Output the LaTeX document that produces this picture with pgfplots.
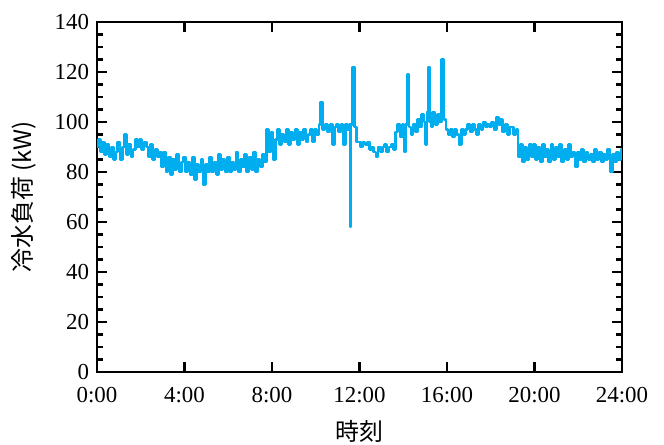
\documentclass[border=0pt]{standalone}
\usepackage{fontspec}
\setmainfont{Liberation Serif}
\newfontfamily\jp{Noto Sans CJK JP}
\usepackage{pgfplots}
\pgfplotsset{compat=1.18}
\definecolor{lc}{HTML}{00AEEF}
\begin{document}
\begin{tikzpicture}
\begin{axis}[
  scale only axis, width=525bp, height=350bp,
  xmin=0, xmax=24, ymin=0, ymax=140,
  xtick={0,4,8,12,16,20,24},
  xticklabels={0:00,4:00,8:00,12:00,16:00,20:00,24:00},
  ytick={0,20,40,60,80,100,120,140},
  minor y tick num=3,
  tick align=inside,
  major tick length=10bp, minor tick length=6bp,
  every tick/.style={black, line width=2.2bp},
  axis line style={black, line width=2.8bp},
  /pgf/number format/assume math mode=true,
  tick label style={font=\fontsize{23}{26}\selectfont},
  xticklabel style={yshift=-12bp},
  yticklabel style={xshift=-4.5bp},
  xlabel={\jp 時刻},
  ylabel={\jp 冷水負荷 (kW)},
  label style={font=\fontsize{24}{28}\selectfont},
  xlabel style={yshift=-10bp},
  ylabel style={yshift=12bp},
]
\addplot[lc, line width=2.8bp, line join=round, const plot mark mid] table {
t v
0.0 90
0.1 93
0.2 88
0.3 92
0.4 87
0.5 91
0.6 86
0.7 90
0.8 85
0.9 88
1.0 92
1.1 85
1.2 90
1.3 95
1.4 87
1.5 91
1.6 86
1.7 89
1.8 93
1.9 90
2.0 93
2.1 89
2.2 92
2.3 90
2.4 86
2.5 91
2.6 85
2.7 89
2.8 86
2.9 88
3.0 82
3.1 88
3.2 80
3.3 86
3.4 79
3.5 85
3.6 81
3.7 87
3.8 80
3.9 84
4.0 86
4.1 80
4.2 84
4.3 79
4.4 86
4.5 77
4.6 83
4.7 80
4.8 85
4.9 75
5.0 83
5.1 80
5.2 86
5.3 80
5.4 84
5.5 79
5.6 87
5.7 81
5.8 85
5.9 80
6.0 86
6.1 80
6.2 84
6.3 81
6.4 88
6.5 80
6.6 85
6.7 82
6.8 87
6.9 80
7.0 86
7.1 81
7.2 88
7.3 80
7.4 85
7.5 82
7.6 87
7.7 84
7.8 97
7.9 88
8.0 96
8.1 85
8.2 93
8.3 97
8.4 91
8.5 95
8.6 92
8.7 97
8.8 91
8.9 96
9.0 93
9.1 97
9.2 91
9.3 96
9.4 93
9.5 97
9.6 92
9.7 95
9.8 97
9.9 92
10.0 97
10.1 95
10.2 99
10.27 108
10.35 97
10.5 99
10.6 96
10.7 99
10.8 91
10.9 98
11.0 99
11.1 96
11.2 99
11.3 91
11.4 99
11.5 97
11.55 99
11.58 58
11.63 99
11.73 122
11.8 98
11.9 92
12.0 92
12.1 90
12.2 92
12.3 91
12.4 92
12.5 89
12.6 90
12.7 88
12.8 86
12.9 90
13.0 88
13.1 90
13.2 91
13.3 88
13.4 90
13.5 91
13.6 89
13.7 96
13.8 99
13.9 94
14.0 99
14.04 97
14.08 88
14.15 99
14.22 119
14.3 98
14.4 95
14.5 99
14.6 96
14.7 101
14.8 98
14.9 103
15.0 100
15.06 91
15.12 104
15.17 122
15.25 100
15.3 98
15.4 104
15.5 99
15.6 103
15.7 100
15.82 125
15.9 101
16.0 97
16.1 95
16.2 97
16.3 94
16.4 97
16.5 95
16.6 91
16.7 97
16.8 95
16.9 97
17.0 99
17.1 96
17.2 99
17.3 97
17.4 95
17.5 99
17.6 97
17.7 100
17.8 98
17.9 99
18.0 98
18.1 100
18.2 97
18.3 102
18.4 99
18.5 101
18.6 96
18.7 99
18.8 95
18.9 98
19.0 98
19.1 95
19.2 97
19.3 86
19.4 91
19.5 84
19.6 90
19.7 85
19.8 91
19.9 86
20.0 91
20.1 85
20.2 90
20.3 84
20.4 91
20.5 86
20.6 89
20.7 84
20.8 91
20.9 85
21.0 90
21.1 86
21.2 91
21.3 84
21.4 89
21.5 85
21.6 91
21.7 86
21.8 88
21.9 82
22.0 88
22.1 85
22.2 89
22.3 84
22.4 88
22.5 85
22.6 87
22.7 84
22.8 89
22.9 85
23.0 88
23.1 84
23.2 87
23.3 85
23.4 89
23.5 80
23.6 87
23.7 84
23.8 88
23.9 85
24.0 89
};
\end{axis}
\pgfresetboundingbox
\path[use as bounding box] ([xshift=-97bp,yshift=-73bp]current axis.south west) rectangle ([xshift=42bp,yshift=22bp]current axis.north east);
\end{tikzpicture}
\end{document}
